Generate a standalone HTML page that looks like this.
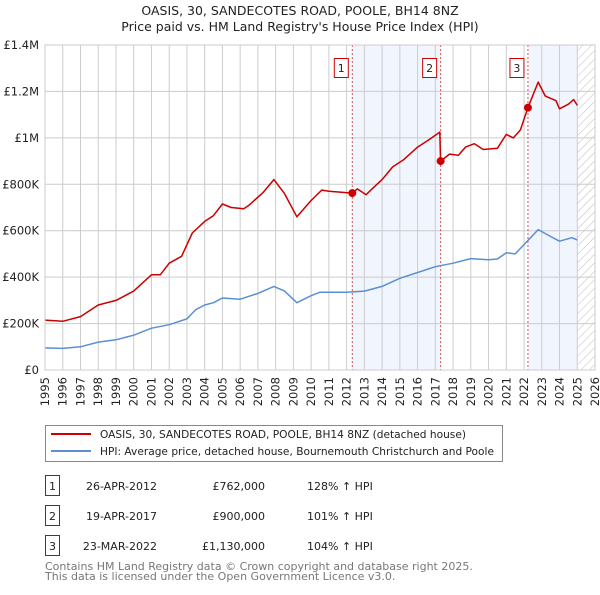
<!DOCTYPE html>
<html><head><meta charset="utf-8"><style>
body{margin:0;background:#fff;font-family:"Liberation Sans","DejaVu Sans",sans-serif;}
svg text{font-family:"DejaVu Sans","Liberation Sans",sans-serif;}
</style></head><body>
<svg width="600" height="590" xmlns="http://www.w3.org/2000/svg">
<defs><pattern id="hatch" width="6" height="6" patternUnits="userSpaceOnUse" patternTransform="rotate(45)"><line x1="0" y1="0" x2="0" y2="6" stroke="#bbb" stroke-width="1"/></pattern></defs>
<text x="300" y="15" text-anchor="middle" font-size="12.5" fill="#222">OASIS, 30, SANDECOTES ROAD, POOLE, BH14 8NZ</text>
<text x="300" y="31" text-anchor="middle" font-size="12.5" fill="#222">Price paid vs. HM Land Registry's House Price Index (HPI)</text>
<g id="plot"></g>
<g>
<rect x="45.5" y="425.5" width="457" height="36" fill="#fff" stroke="#888"/>
<line x1="51" y1="434" x2="91" y2="434" stroke="#cc0000" stroke-width="2"/>
<text x="100" y="438" font-size="10.5" fill="#222" textLength="366" lengthAdjust="spacingAndGlyphs">OASIS, 30, SANDECOTES ROAD, POOLE, BH14 8NZ (detached house)</text>
<line x1="51" y1="451" x2="91" y2="451" stroke="#5b8fd4" stroke-width="2"/>
<text x="100" y="455" font-size="10.5" fill="#222" textLength="394" lengthAdjust="spacingAndGlyphs">HPI: Average price, detached house, Bournemouth Christchurch and Poole</text>
</g>
<g font-size="11" fill="#222">
<rect x="45.5" y="475.5" width="14" height="20" fill="#fff" stroke="#cc0000"/><text x="52.5" y="490" text-anchor="middle">1</text>
<text x="157" y="490" text-anchor="end">26-APR-2012</text><text x="265" y="490" text-anchor="end">£762,000</text><text x="307" y="490">128% ↑ HPI</text>
<rect x="45.5" y="505.5" width="14" height="20" fill="#fff" stroke="#cc0000"/><text x="52.5" y="520" text-anchor="middle">2</text>
<text x="157" y="520" text-anchor="end">19-APR-2017</text><text x="265" y="520" text-anchor="end">£900,000</text><text x="307" y="520">101% ↑ HPI</text>
<rect x="45.5" y="535.5" width="14" height="20" fill="#fff" stroke="#cc0000"/><text x="52.5" y="550" text-anchor="middle">3</text>
<text x="157" y="550" text-anchor="end">23-MAR-2022</text><text x="265" y="550" text-anchor="end">£1,130,000</text><text x="307" y="550">104% ↑ HPI</text>
</g>
<text x="45" y="570" font-size="11" fill="#777">Contains HM Land Registry data © Crown copyright and database right 2025.</text>
<text x="45" y="580" font-size="11" fill="#777">This data is licensed under the Open Government Licence v3.0.</text>
</svg>
<script>
const yTicks=[0,200,400,600,800,1000,1200,1400];
const yTickLabels=["£0","£200K","£400K","£600K","£800K","£1M","£1.2M","£1.4M"];
const years=[1995,1996,1997,1998,1999,2000,2001,2002,2003,2004,2005,2006,2007,2008,2009,2010,2011,2012,2013,2014,2015,2016,2017,2018,2019,2020,2021,2022,2023,2024,2025,2026];
const hpiT=[1995,1996,1997,1998,1999,2000,2001,2002,2003,2003.5,2004,2004.5,2005,2006,2007,2007.9,2008.5,2009.2,2010,2010.5,2011,2012,2013,2014,2015,2016,2017,2018,2019,2020,2020.5,2021,2021.5,2022,2022.8,2023.5,2024,2024.7,2025];
const hpiV=[95,93,100,120,130,150,180,195,220,260,280,290,310,305,330,360,340,290,320,335,335,335,340,360,395,420,445,460,480,475,478,505,500,540,605,575,555,570,560];
const priceT=[1995,1996,1997,1998,1999,2000,2001,2001.5,2002,2002.7,2003.3,2004,2004.5,2005,2005.5,2006.2,2006.5,2007.3,2007.9,2008.5,2009.2,2010,2010.6,2011,2012.32,2012.6,2013.1,2013.5,2014,2014.6,2015.2,2016,2016.6,2017.25,2017.3,2017.8,2018.3,2018.7,2019.2,2019.7,2020.5,2021,2021.4,2021.8,2022.22,2022.8,2023.2,2023.8,2024,2024.5,2024.8,2025];
const priceV=[215,210,230,280,300,340,410,410,460,490,590,640,665,715,700,695,710,765,820,760,660,730,775,770,762,780,755,785,820,875,905,960,990,1025,900,930,925,960,975,950,955,1015,1000,1035,1130,1240,1180,1160,1125,1145,1165,1140];
const saleT=[2012.32,2017.3,2022.22];
const saleV=[762,900,1130];
const saleLabels=["1","2","3"];
const X0=45,X1=595,Y0=370,Y1=45;
const x=t=>X0+(t-1995)/(2026-1995)*(X1-X0);
const y=v=>Y0-v/1400*(Y0-Y1);
const NS="http://www.w3.org/2000/svg";
const g=document.getElementById('plot');
function mk(tag,a,p){const e=document.createElementNS(NS,tag);for(const k in a)e.setAttribute(k,a[k]);(p||g).appendChild(e);return e;}
let r=mk('rect',{x:x(saleT[0]),y:Y1,width:x(saleT[1])-x(saleT[0]),height:Y0-Y1,fill:'#eef3fc',opacity:0.8});


r=mk('rect',{x:x(saleT[2]),y:Y1,width:x(2025)-x(saleT[2]),height:Y0-Y1,fill:'#eef3fc',opacity:0.8});


r=mk('rect',{x:x(2025),y:Y1,width:X1-x(2025),height:Y0-Y1,fill:'url(#hatch)'});


years.forEach(t=>{const l=mk('line',{x1:x(t),x2:x(t),y1:Y1,y2:Y0,stroke:'#ccc','stroke-width':1});


const tx=mk('text',{x:0,y:0,'text-anchor':'end','font-size':11.5,fill:'#222',transform:'translate('+(x(t)+4)+','+(Y0+7)+') rotate(-90)'});tx.textContent=t;

});
yTicks.forEach((v,i)=>{const l=mk('line',{x1:X0,x2:X1,y1:y(v),y2:y(v),stroke:'#ccc','stroke-width':1});


const tx=mk('text',{x:X0-6,y:y(v)+4,'text-anchor':'end','font-size':11.5,fill:'#222'});tx.textContent=yTickLabels[i];

});
saleT.forEach((t,i)=>{const l=mk('line',{x1:x(t),x2:x(t),y1:Y1,y2:Y0,stroke:'#e05050','stroke-width':1,'stroke-dasharray':'2,2'});


const b=mk('rect',{x:x(t)-18,y:58.5,width:14,height:19,fill:'#fff',stroke:'#cc0000'});


const tx=mk('text',{x:x(t)-11,y:72,'text-anchor':'middle','font-size':11,fill:'#222'});tx.textContent=saleLabels[i];

});
function line(T,V,c,n){const p=mk('path',{d:T.map((t,i)=>(i?'L':'M')+x(t).toFixed(1)+','+y(V[i]).toFixed(1)).join(''),fill:'none',stroke:c,'stroke-width':1.5,'stroke-linejoin':'round'});

}
line(hpiT,hpiV,'#5b8fd4','hpi-line');
line(priceT,priceV,'#cc0000','price-line');
saleT.forEach((t,i)=>{const c=mk('circle',{cx:x(t),cy:y(saleV[i]),r:4,fill:'#cc0000'});

});
const ax=mk('rect',{x:X0,y:Y1,width:X1-X0,height:Y0-Y1,fill:'none',stroke:'#ccc'});


</script>
</body></html>
